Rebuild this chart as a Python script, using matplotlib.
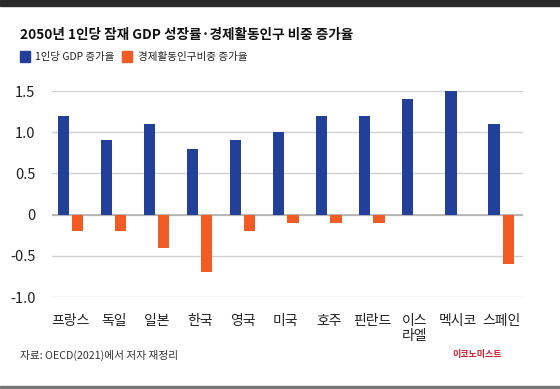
import numpy as np
import matplotlib.pyplot as plt
from matplotlib.patches import Rectangle

plt.rcParams['font.family'] = ['Noto Sans CJK KR', 'DejaVu Sans']

# --- data ---
countries = ['프랑스', '독일', '일본', '한국', '영국', '미국', '호주', '핀란드', '이스\n라엘', '멕시코', '스페인']
gdp_growth = [1.2, 0.9, 1.1, 0.8, 0.9, 1.0, 1.2, 1.2, 1.4, 1.5, 1.1]
labor_share = [-0.2, -0.2, -0.4, -0.7, -0.2, -0.1, -0.1, -0.1, 0.0, 0.0, -0.6]
yticks = [-1.0, -0.5, 0, 0.5, 1.0, 1.5]
ytick_labels = ['-1.0', '-0.5', '0', '0.5', '1.0', '1.5']

blue = '#22409a'
orange = '#f25c22'

fig = plt.figure(figsize=(5.6, 3.89), dpi=100)
ax = fig.add_axes([0.093, 0.2365, 0.841, 0.5295])

x = np.arange(len(countries))
w = 0.26
ax.bar(x - 0.165, gdp_growth, w, color=blue, zorder=3)
ax.bar(x + 0.165, labor_share, w, color=orange, zorder=3)

ax.set_xlim(-0.43, 10.51)
ax.set_ylim(-1.0, 1.5)
ax.set_yticks(yticks)
ax.set_yticklabels(ytick_labels, fontsize=10.5, color='#222222')
ax.yaxis.grid(True, color='#d0d0d0', linewidth=1.0, zorder=0)
ax.axhline(0, color='#b0b0b0', linewidth=1.2, zorder=2)
ax.tick_params(axis='y', length=0, pad=12)
ax.set_xticks(x)
ax.set_xticklabels(countries, fontsize=10, color='#222222', linespacing=1.1, va='top')
ax.tick_params(axis='x', length=0, pad=12)
for s in ax.spines.values():
    s.set_visible(False)

# title and legend
fig.text(20 / 560, 1 - 35 / 389, '2050년 1인당 잠재 GDP 성장률·경제활동인구 비중 증가율',
         fontsize=9.8, fontweight='bold', color='#111111', va='center', ha='left')
fig.patches.append(Rectangle((20 / 560, 1 - 62 / 389), 10 / 560, 11 / 389,
                             transform=fig.transFigure, color=blue))
fig.text(35 / 560, 1 - 57 / 389, '1인당 GDP 증가율', fontsize=7.5, color='#222222',
         va='center', ha='left')
fig.patches.append(Rectangle((122 / 560, 1 - 62 / 389), 10 / 560, 11 / 389,
                             transform=fig.transFigure, color=orange))
fig.text(138 / 560, 1 - 57 / 389, '경제활동인구비중 증가율', fontsize=7.6, color='#222222',
         va='center', ha='left')

# footer
fig.text(20 / 560, 1 - 355 / 389, '자료: OECD(2021)에서 저자 재정리', fontsize=7.7, color='#333333',
         va='center', ha='left')
fig.text(502 / 560, 1 - 355 / 389, '이코노미스트', fontsize=6.5, fontweight='bold', color='#d0202e',
         va='center', ha='right')

# frame lines
fig.patches.append(Rectangle((0, 1 - 6 / 389), 1, 6 / 389, transform=fig.transFigure,
                             color='#2a2a2a'))
fig.patches.append(Rectangle((0, 1 / 389), 1, 2.5 / 389, transform=fig.transFigure,
                             color='#777777'))

fig.savefig('out.png', dpi=100)
